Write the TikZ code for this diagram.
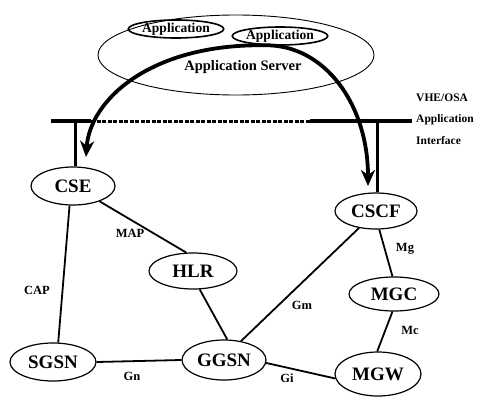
\documentclass[tikz,border=0pt]{standalone}
\usepackage{fontspec}
\setmainfont{Liberation Serif}
\usetikzlibrary{shapes.geometric,arrows.meta}
\begin{document}
\begin{tikzpicture}[x=1pt,y=-1pt,
  nd/.style={ellipse,draw,line width=1.2pt,inner sep=0pt,minimum width=84pt,minimum height=38pt,font=\bfseries\fontsize{19}{19}\selectfont},
  app/.style={ellipse,draw,line width=1.6pt,inner sep=0pt,minimum width=84pt,minimum height=18pt,font=\bfseries\fontsize{13.5}{13.5}\selectfont},
  lbl/.style={font=\bfseries\fontsize{12.5}{12.5}\selectfont,inner sep=0pt},
  rlbl/.style={font=\bfseries\fontsize{11.5}{11.5}\selectfont,inner sep=0pt,anchor=west},
  edge/.style={line width=1.8pt},
  bar/.style={line width=3.5pt},
  bigarrow/.style={line width=3.8pt,-{Stealth[length=16pt,width=14pt,inset=5pt]}}]
\useasboundingbox (0,0) rectangle (482,399);
% application server
\node[ellipse,draw,line width=0.9pt,minimum width=276pt,minimum height=80pt,inner sep=0pt] (as) at (236,55) {};
\node[app] (app1) at (176,29) {Application};
\node[app] (app2) at (280,36) {Application};
\node[font=\bfseries\fontsize{14.5}{14.5}\selectfont,inner sep=0pt] (asl) at (243,67) {Application Server};
% nodes
\node[nd] (cse) at (73,186) {CSE};
\node[nd,minimum width=82pt,minimum height=36pt] (cscf) at (376,211) {CSCF};
\node[nd,minimum width=88pt,minimum height=36pt] (hlr) at (193,271) {HLR};
\node[nd,minimum width=90pt,minimum height=34pt] (mgc) at (394,294) {MGC};
\node[nd,minimum width=86pt,minimum height=38pt] (sgsn) at (53,362) {SGSN};
\node[nd,minimum width=84pt,minimum height=40pt] (ggsn) at (224,360) {GGSN};
\node[nd,minimum width=86pt,minimum height=44pt] (mgw) at (378,374) {MGW};
% interface bar
\coordinate (b1) at (51,121);
\coordinate (b2) at (91,121);
\coordinate (b3) at (310,121);
\coordinate (b4) at (412,121);
\coordinate (tl) at (75,121);
\coordinate (tr) at (377,121);
\draw[bar] (b1) -- (b2);
\draw[line width=3pt,dash pattern=on 4pt off 1.5pt] (b2) -- (b3);
\draw[bar] (b3) -- (b4);
\draw[line width=3pt] (tl) -- (tl |- cse.north);
\draw[line width=3pt] (tr) -- (tr |- cscf.north);
\node[rlbl] (vhe) at (416,98) {VHE/OSA};
\node[rlbl] (api) at (416,120) {Application};
\node[rlbl] (ifc) at (416,141) {Interface};
% arrows
\coordinate (endl) at (86,157);
\coordinate (endr) at (368,186);
\draw[bigarrow] (app2.210) .. controls (150,44) and (90,100) .. (endl);
\draw[bigarrow] (app2.210) .. controls (325,44) and (368,105) .. (endr);
% edges
\draw[edge] (cse.260) -- (sgsn.75);
\draw[edge] (cse.330) -- (hlr.110);
\draw[edge] (hlr.290) -- (ggsn.81);
\draw[edge] (cscf.225) -- (ggsn.48);
\draw[edge] (cscf.280) -- (mgc.95);
\draw[edge] (mgc.265) -- (mgw.92);
\draw[edge] (sgsn.0) -- (ggsn.180);
\draw[edge] (ggsn.356) -- (mgw.186);
% edge labels
\node[lbl] (lmap) at (130,233) {MAP};
\node[lbl] (lcap) at (37,290) {CAP};
\node[lbl] (lgm) at (302,305) {Gm};
\node[lbl] (lmg) at (405,249) {Mg};
\node[lbl] (lmc) at (410,330) {Mc};
\node[lbl] (lgn) at (132,376) {Gn};
\node[lbl] (lgi) at (287,378) {Gi};
\end{tikzpicture}
\end{document}
